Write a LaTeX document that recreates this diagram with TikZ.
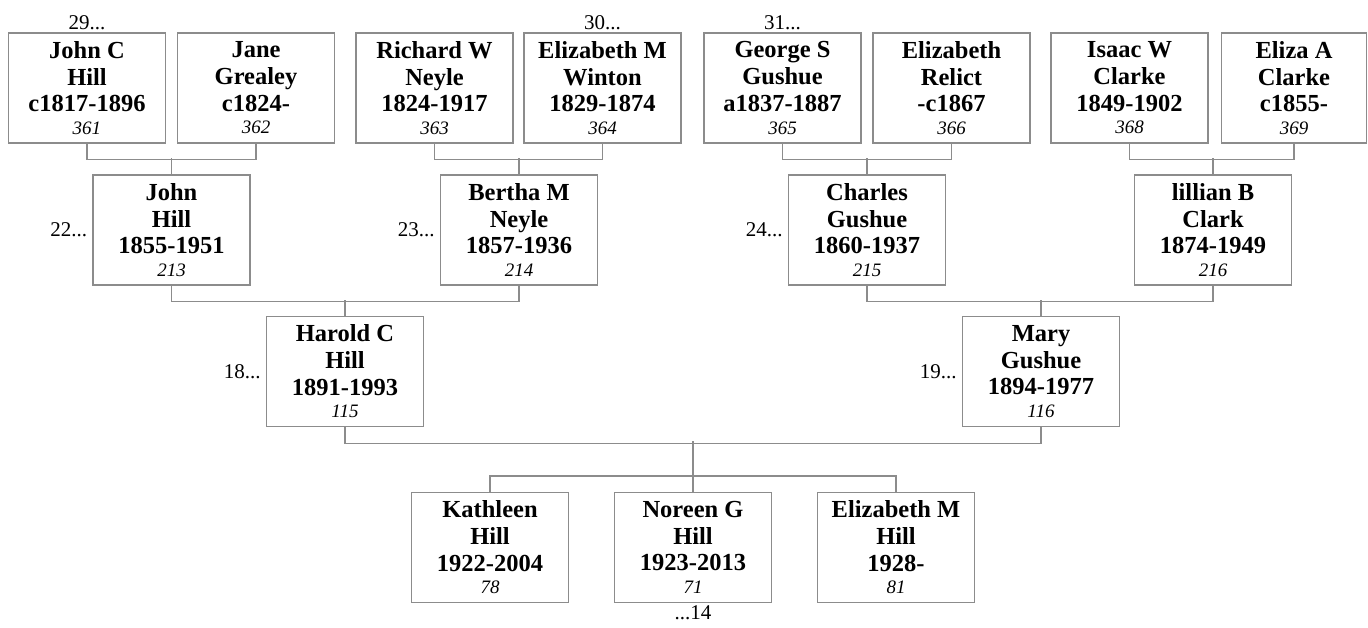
\documentclass[tikz,border=0pt]{standalone}
\usepackage{fontspec}
\setmainfont{Liberation Serif}
\usetikzlibrary{positioning}

\newcommand{\pers}[4]{#1\\#2\\#3\\[-4pt]{\fontsize{19}{20}\selectfont\mdseries\itshape #4}}

\begin{document}
\begin{tikzpicture}[x=1pt,y=1pt,
  person/.style={draw=black!45,line width=1.2pt,minimum width=157pt,minimum height=110pt,inner sep=0pt,
    align=center,font=\fontsize{24.5}{26.7}\selectfont\bfseries},
  link/.style={draw=black!45,line width=1.2pt},
  ref/.style={font=\fontsize{21}{24}\selectfont,inner sep=2pt}]
\useasboundingbox (0,0) rectangle (1368,-628);
% great-grandparents
\node[person] (jch) at (87,-88) {\pers{John C}{Hill}{c1817-1896}{361}};
\node[person] (jgr) at (256,-88) {\pers{Jane}{Grealey}{c1824-}{362}};
\node[person] (rwn) at (434.5,-88) {\pers{Richard W}{Neyle}{1824-1917}{363}};
\node[person] (ewn) at (602.5,-88) {\pers{Elizabeth M}{Winton}{1829-1874}{364}};
\node[person] (gsg) at (782.5,-88) {\pers{George S}{Gushue}{a1837-1887}{365}};
\node[person] (erl) at (951.5,-88) {\pers{Elizabeth}{Relict}{-c1867}{366}};
\node[person] (iwc) at (1129.5,-88) {\pers{Isaac W}{Clarke}{1849-1902}{368}};
\node[person,minimum width=145pt] (eac) at (1294,-88) {\pers{Eliza A}{Clarke}{c1855-}{369}};
% grandparents
\node[person] (jhl) at (171.5,-230) {\pers{John}{Hill}{1855-1951}{213}};
\node[person] (bmn) at (519,-230) {\pers{Bertha M}{Neyle}{1857-1936}{214}};
\node[person] (cgs) at (867,-230) {\pers{Charles}{Gushue}{1860-1937}{215}};
\node[person] (lbc) at (1213,-230) {\pers{lillian B}{Clark}{1874-1949}{216}};
% parents
\node[person] (hch) at (345,-371.5) {\pers{Harold C}{Hill}{1891-1993}{115}};
\node[person] (mgs) at (1041,-371.5) {\pers{Mary}{Gushue}{1894-1977}{116}};
% children
\node[person] (kth) at (490,-547.5) {\pers{Kathleen}{Hill}{1922-2004}{78}};
\node[person] (ngh) at (693,-547.5) {\pers{Noreen G}{Hill}{1923-2013}{71}};
\node[person] (emh) at (896,-547.5) {\pers{Elizabeth M}{Hill}{1928-}{81}};

% family lines
\foreach \fa/\mo/\ch in {jch/jgr/jhl,rwn/ewn/bmn,gsg/erl/cgs,iwc/eac/lbc,jhl/bmn/hch,cgs/lbc/mgs}{
  \draw[link] (\fa.south) -- ++(0,-16) -| (\mo.south);
  \draw[link] (\ch.north) -- ++(0,16);
}
\draw[link] (hch.south) -- ++(0,-16) -| (mgs.south);
\draw[link] (kth.north) -- ++(0,16) -| (emh.north);
\draw[link] (ngh.north) -- ++(0,51);

% continuation marks
\foreach \p/\t in {jch/29,ewn/30,gsg/31}{\node[ref,above=0pt of \p] (c\p) {\t...};}
\foreach \p/\t in {jhl/22,bmn/23,cgs/24,hch/18,mgs/19}{\node[ref,left=3pt of \p] (c\p) {\t...};}
\node[ref,below=0pt of ngh] (cngh) {...14};
\end{tikzpicture}
\end{document}
